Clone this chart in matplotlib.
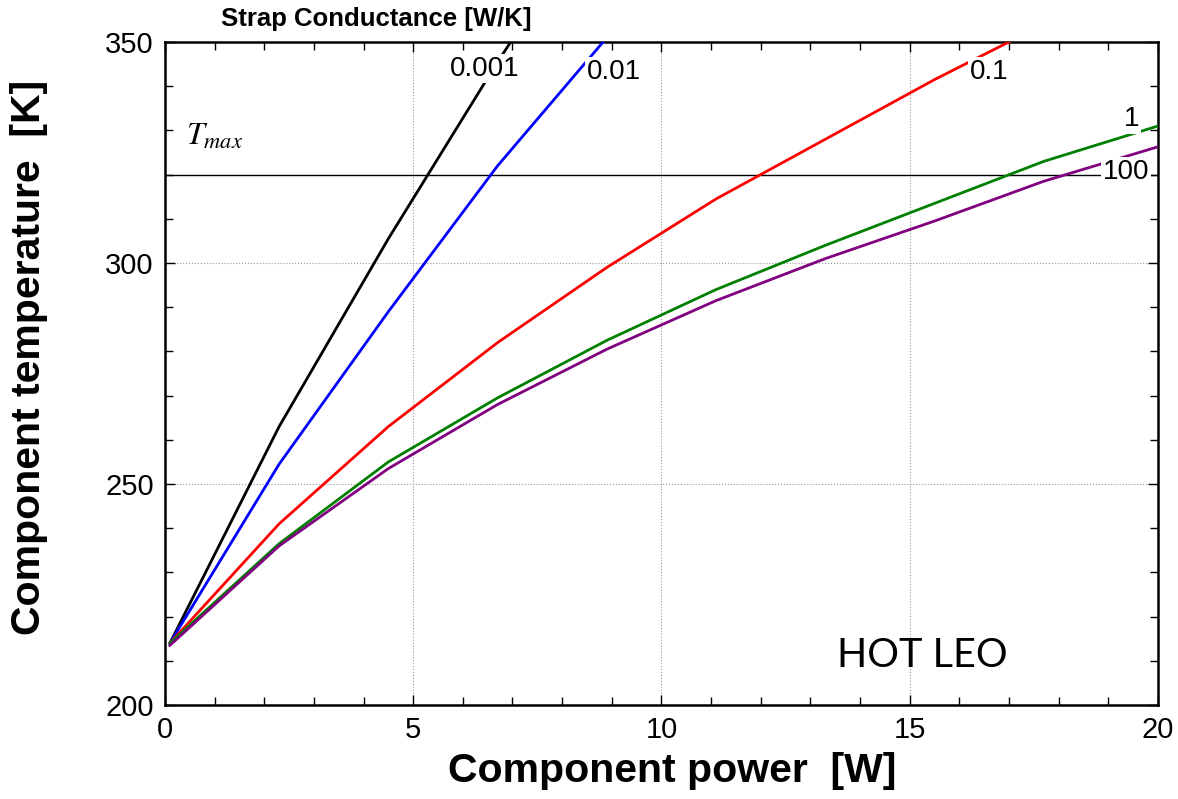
import matplotlib.pyplot as plt
from matplotlib.ticker import MultipleLocator

# component power [W] at which the model was evaluated
power = [0.1, 2.3, 4.5, 6.7, 8.9, 11.1, 13.3, 15.5, 17.7, 20.0]

# component temperature [K] for each strap conductance [W/K]
temp_0001 = [214, 263, 305.5, 345.5, 383]
temp_001 = [214, 254.5, 289, 322, 351, 380]
temp_01 = [214, 241, 263, 282, 299, 314.5, 328, 341.5, 354]
temp_1 = [214, 236.5, 255, 269.5, 282.5, 294, 304, 313.5, 323, 331]
temp_100 = [213.5, 236, 253.5, 268, 280.5, 291.5, 301, 309.5, 318.5, 326.3]

conductances = ["0.001", "0.01", "0.1", "1", "100"]
colors = ["black", "blue", "red", "green", "purple"]
series = [temp_0001, temp_001, temp_01, temp_1, temp_100]

# where each conductance label sits on its curve
label_pos = [(6.45, 344.0), (9.05, 343.2), (16.6, 343.2), (19.46, 332.6), (19.35, 320.6)]

t_max = 320

plt.rcParams["font.family"] = ["Liberation Sans", "DejaVu Sans"]
plt.rcParams["mathtext.fontset"] = "stix"

fig = plt.figure(figsize=(11.78, 7.99), dpi=100)
ax = fig.add_axes([0.140, 0.1176, 0.843, 0.8298])

for temps, color in zip(series, colors):
    ax.plot(power[:len(temps)], temps, color=color, lw=2.0, zorder=3)

ax.axhline(t_max, color="black", lw=1.0, zorder=2)

for text, (lx, ly) in zip(conductances, label_pos):
    ax.text(lx, ly, text, fontsize=20, ha="center", va="center", zorder=5,
            bbox=dict(facecolor="white", edgecolor="none", pad=1.5))

ax.text(1.0, 328.5, r"$T_{max}$", fontsize=23, ha="center", va="center")
ax.text(15.25, 211.3, "HOT LEO", fontsize=28.5, ha="center", va="center",
        family=["Lato", "DejaVu Sans"])

ax.set_xlim(0, 20)
ax.set_ylim(200, 350)
ax.xaxis.set_major_locator(MultipleLocator(5))
ax.xaxis.set_minor_locator(MultipleLocator(1))
ax.yaxis.set_major_locator(MultipleLocator(50))
ax.yaxis.set_minor_locator(MultipleLocator(10))
ax.tick_params(which="both", direction="in", top=True, right=True,
               labelsize=21, width=1.0, pad=8)
ax.tick_params(which="major", length=7)
ax.tick_params(which="minor", length=6)
ax.grid(True, which="major", color="#999999", linestyle=":", lw=0.8, zorder=0)
for spine in ax.spines.values():
    spine.set_linewidth(1.8)

ax.set_xlabel("Component power  [W]", fontsize=29.5, fontweight="bold")
ax.set_ylabel("Component temperature  [K]", fontsize=29.5, fontweight="bold")
ax.xaxis.set_label_coords(0.511, -0.071)
ax.yaxis.set_label_coords(-0.118, 0.525)
ax.text(0.213, 1.035, "Strap Conductance [W/K]", transform=ax.transAxes,
        fontsize=18.5, fontweight="bold", ha="center", va="center")

fig.savefig("out.png", dpi=100)
